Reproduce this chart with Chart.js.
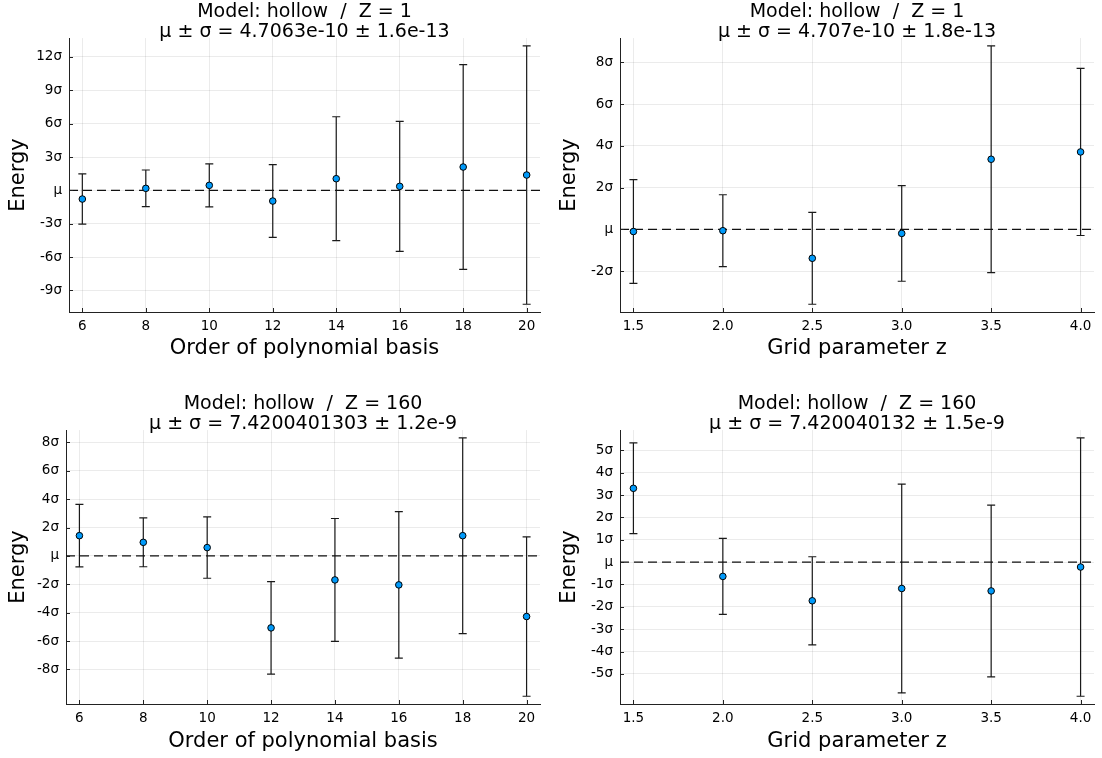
<!DOCTYPE html>
<html>
<head>
<meta charset="utf-8">
<script src="https://cdn.jsdelivr.net/npm/chart.js@4.4.0/dist/chart.umd.min.js"></script>
<style>
  html,body{margin:0;padding:0;background:#fff;}
  #fig{position:relative;width:1102px;height:758px;overflow:hidden;}
  #fig canvas{position:absolute;}
</style>
</head>
<body>
<div id="fig">
  <canvas id="c1" width="551" height="375" style="left:0;top:0"></canvas>
  <canvas id="c2" width="551" height="375" style="left:551px;top:0"></canvas>
  <canvas id="c3" width="551" height="383" style="left:0;top:375px"></canvas>
  <canvas id="c4" width="551" height="383" style="left:551px;top:375px"></canvas>
</div>
<script>
// valeurs en unités de sigma (écart au mu)
const orders = [6, 8, 10, 12, 14, 16, 18, 20];
const gridZ  = [1.5, 2.0, 2.5, 3.0, 3.5, 4.0];

const polyZ1Vals  = [-0.78, 0.18, 0.45, -0.96, 1.05, 0.36, 2.10, 1.38];
const polyZ1Errs  = [2.26, 1.65, 1.93, 3.27, 5.57, 5.85, 9.20, 11.62];
const gridZ1Vals  = [-0.10, -0.06, -1.38, -0.19, 3.36, 3.71];
const gridZ1Errs  = [2.48, 1.72, 2.20, 2.29, 5.43, 4.00];
const polyZ160Vals = [1.43, 0.96, 0.59, -5.07, -1.69, -2.04, 1.43, -4.27];
const polyZ160Errs = [2.20, 1.72, 2.16, 3.26, 4.33, 5.16, 6.90, 5.62];
const gridZ160Vals = [3.30, -0.64, -1.73, -1.18, -1.29, -0.22];
const gridZ160Errs = [2.03, 1.70, 1.97, 4.67, 3.84, 5.78];

const ticksP1 = [-9, -6, -3, 0, 3, 6, 9, 12];
const ticksP2 = [-2, 0, 2, 4, 6, 8];
const ticksP3 = [-8, -6, -4, -2, 0, 2, 4, 6, 8];
const ticksP4 = [-5, -4, -3, -2, -1, 0, 1, 2, 3, 4, 5];

const titleP1 = ['Model: hollow  /  Z = 1', 'μ ± σ = 4.7063e-10 ± 1.6e-13'];
const titleP2 = ['Model: hollow  /  Z = 1', 'μ ± σ = 4.707e-10 ± 1.8e-13'];
const titleP3 = ['Model: hollow  /  Z = 160', 'μ ± σ = 7.4200401303 ± 1.2e-9'];
const titleP4 = ['Model: hollow  /  Z = 160', 'μ ± σ = 7.420040132 ± 1.5e-9'];

const FONT = '"DejaVu Sans", sans-serif';
const BLUE = '#009AFA';

// barres d'erreur + ligne mu pointillée
const errPlugin = {
  id: 'errBars',
  beforeDatasetsDraw(chart){
    const {ctx, chartArea:a, scales:{x, y}} = chart;
    ctx.save();
    ctx.strokeStyle = '#1a1a1a'; ctx.lineWidth = 1.2;
    chart.data.datasets.forEach(ds=>{
      (ds.errs||[]).forEach((e,i)=>{
        const p = ds.data[i];
        const px = x.getPixelForValue(p.x);
        const y1 = y.getPixelForValue(p.y + e), y2 = y.getPixelForValue(p.y - e);
        ctx.beginPath();
        ctx.moveTo(px, y1); ctx.lineTo(px, y2);
        ctx.moveTo(px-4, y1); ctx.lineTo(px+4, y1);
        ctx.moveTo(px-4, y2); ctx.lineTo(px+4, y2);
        ctx.stroke();
      });
    });
    const y0 = y.getPixelForValue(0);
    ctx.setLineDash([9,5]); ctx.strokeStyle = '#111'; ctx.lineWidth = 1.2;
    ctx.beginPath(); ctx.moveTo(a.left, y0); ctx.lineTo(a.right, y0); ctx.stroke();
    ctx.restore();
  },
  afterDraw(chart){
    // petites graduations vers l'intérieur
    const {ctx, chartArea:a, scales:{x, y}} = chart;
    ctx.save(); ctx.strokeStyle = '#222'; ctx.lineWidth = 1;
    ctx.beginPath();
    x.ticks.forEach(t=>{ const px = Math.round(x.getPixelForValue(t.value))+0.5; ctx.moveTo(px, a.bottom); ctx.lineTo(px, a.bottom-4); });
    y.ticks.forEach(t=>{ const py = Math.round(y.getPixelForValue(t.value))+0.5; ctx.moveTo(a.left, py); ctx.lineTo(a.left+4, py); });
    ctx.stroke(); ctx.restore();
  }
};

function range(lo, hi){ const m = (hi-lo)*0.03; return [lo-m, hi+m]; }

function makePanel(id, xs, vals, errs, yTicks, title, xLabel, xFmt, box){
  const [xmin, xmax] = range(Math.min(...xs), Math.max(...xs));
  const [ymin, ymax] = range(Math.min(...vals.map((v,i)=>v-errs[i])), Math.max(...vals.map((v,i)=>v+errs[i])));
  return new Chart(document.getElementById(id), {
    type: 'scatter',
    data: { datasets: [{
      data: xs.map((x,i)=>({x, y: vals[i]})), errs,
      backgroundColor: BLUE, borderColor: '#000', borderWidth: 1, pointRadius: 3.3, pointHoverRadius: 3.3
    }]},
    options: {
      responsive: false, animation: false, events: [],
      layout: { padding: { top: box.padTop, right: box.padRight, left: 0, bottom: 0 } },
      plugins: {
        legend: { display: false }, tooltip: { enabled: false },
        title: { display: true, text: title, fullSize: false, color: '#000',
                 font: { family: FONT, size: 19, weight: 'normal', lineHeight: 1.08 },
                 padding: { top: 1.5, bottom: -4.5 } }
      },
      scales: {
        x: {
          type: 'linear', min: xmin, max: xmax,
          afterBuildTicks: s => { s.ticks = xs.map(v=>({value: v})); },
          afterFit: s => { s.height = box.xAxisH; },
          ticks: { callback: xFmt, color: '#000', padding: 6, maxRotation: 0, autoSkip: false, font: { family: FONT, size: 13.5 } },
          grid: { color: 'rgba(0,0,0,0.08)', drawTicks: false },
          border: { color: '#222', width: 1 },
          title: { display: true, text: xLabel, color: '#000', font: { family: FONT, size: 21 }, padding: { top: 0, bottom: box.xTitlePad } }
        },
        y: {
          min: ymin, max: ymax,
          afterBuildTicks: s => { s.ticks = yTicks.map(v=>({value: v})); },
          afterFit: s => { s.width = box.yAxisW; },
          ticks: { callback: v => v === 0 ? 'μ' : v + 'σ', color: '#000', padding: 7, font: { family: FONT, size: 13.5 } },
          grid: { color: 'rgba(0,0,0,0.08)', drawTicks: false },
          border: { color: '#222', width: 1 },
          title: { display: true, text: 'Energy', color: '#000', font: { family: FONT, size: 21 }, padding: { top: 6.4, bottom: 0 } }
        }
      }
    },
    plugins: [errPlugin]
  });
}

const fmtInt = v => String(v);
const fmtOne = v => v.toFixed(1);

makePanel('c1', orders, polyZ1Vals, polyZ1Errs, ticksP1, titleP1, 'Order of polynomial basis', fmtInt,
  { padTop: 0, padRight: 11, yAxisW: 69, xAxisH: 63, xTitlePad: 13.7 });
makePanel('c2', gridZ, gridZ1Vals, gridZ1Errs, ticksP2, titleP2, 'Grid parameter z', fmtOne,
  { padTop: 0, padRight: 8, yAxisW: 69, xAxisH: 63, xTitlePad: 13.7 });
makePanel('c3', orders, polyZ160Vals, polyZ160Errs, ticksP3, titleP3, 'Order of polynomial basis', fmtInt,
  { padTop: 17, padRight: 11, yAxisW: 66, xAxisH: 54, xTitlePad: 4.1 });
makePanel('c4', gridZ, gridZ160Vals, gridZ160Errs, ticksP4, titleP4, 'Grid parameter z', fmtOne,
  { padTop: 17, padRight: 8, yAxisW: 69, xAxisH: 54, xTitlePad: 4.1 });
</script>
</body>
</html>
